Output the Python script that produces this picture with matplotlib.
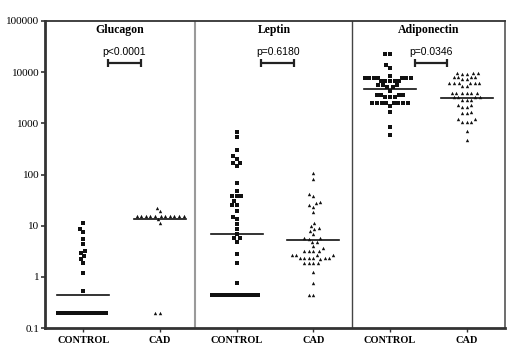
import numpy as np
import matplotlib
matplotlib.use("Agg")
import matplotlib.pyplot as plt

# ---------------- data ----------------
categories = ["CONTROL", "CAD", "CONTROL", "CAD", "CONTROL", "CAD"]
panel_titles = ["Glucagon", "Leptin", "Adiponectin"]
p_texts = ["p<0.0001", "p=0.6180", "p=0.0346"]

glucagon_control = [11.1, 8.6, 7.6, 5.4, 4.3, 3.2, 2.96, 2.55, 2.2, 1.84, 1.17, 0.53] + [0.2] * 20
glucagon_cad = [22.4, 19.5] + [15.7] * 11 + [13.3, 11.1, 0.2, 0.2]

leptin_control = [686, 533, 301, 230, 198, 170, 170, 147, 67, 48, 38.5, 38.5, 38.5, 30,
                  25, 25, 19.3, 14.6, 13.3, 10.8, 8.5, 6.8, 5.7, 5.7, 4.9, 2.75, 1.84,
                  0.77] + [0.44] * 14
leptin_cad = [105, 80, 41, 38, 29.4, 28, 25, 23.5, 18.7, 11.1, 9.8, 8.9, 8.5, 7.9, 6.9,
              5.7, 5.7, 5.5, 4.9, 4.9, 4.0, 3.6, 3.2, 3.2, 3.2, 3.2, 2.67, 2.67, 2.67,
              2.67, 2.3, 2.3, 2.3, 2.3, 2.3, 2.3, 2.2, 1.84, 1.84, 1.84, 1.84, 1.26,
              0.75, 0.44, 0.44]

adipo_control = [22400, 22400, 13500, 12000, 8300] + [7600] * 7 + [6700] * 5 + \
                [5550] * 3 + [5050] * 2 + [4300] + [3570] * 4 + [3200] * 3 + \
                [2480] * 8 + [2200, 1670, 860, 590]
adipo_cad = [9800, 9600, 9500, 9400, 9300] + [8000] * 4 + [7200] * 2 + [6050] * 6 + \
            [5300] * 2 + [3860] * 6 + [3200] * 4 + [2860] * 3 + [2280] * 2 + \
            [2060] * 2 + [1690] + [1570] * 2 + [1200] * 2 + [1080] * 3 + [720, 475]

groups = [glucagon_control, glucagon_cad, leptin_control, leptin_cad,
          adipo_control, adipo_cad]
center_lines = [0.44, 13.3, 7.0, 5.2, 4600, 3170]

# ---------------- figure ----------------
W, H, DPI = 524, 355, 100
fig = plt.figure(figsize=(W / DPI, H / DPI), dpi=DPI)
ax = fig.add_axes([45 / W, 1 - 328 / H, 460 / W, 307 / H])
ax.set_yscale("log")
ax.set_ylim(0.1, 100000)
ax.set_xlim(-0.5, 5.5)

px_per_decade = 307 / 6.0
px_per_cat = 460 / 6.0


def swarm(values, d=4.6, maxw=25.0):
    vals = np.asarray(values, dtype=float)
    order = np.argsort(vals)
    ys = np.log10(vals) * px_per_decade
    xs = np.zeros(len(vals))
    placed = []
    for i in order:
        y = ys[i]
        cands = [0.0]
        for j in placed:
            dy = y - ys[j]
            if abs(dy) < d:
                dx = np.sqrt(d * d - dy * dy)
                cands += [xs[j] + dx, xs[j] - dx]
        cands = sorted(set(cands), key=lambda c: (abs(c), c))
        for c in cands:
            ok = True
            for j in placed:
                if (c - xs[j]) ** 2 + (y - ys[j]) ** 2 < d * d - 1e-6:
                    ok = False
                    break
            if ok:
                xs[i] = c
                break
        placed.append(i)
    # compress overly wide rows of identical values
    for v in np.unique(vals):
        m = vals == v
        w = np.max(np.abs(xs[m]))
        if w > maxw:
            xs[m] *= maxw / w
    return xs / px_per_cat


for k, vals in enumerate(groups):
    off = swarm(vals)
    marker = "s" if k % 2 == 0 else "^"
    size = 5 if marker == "s" else 6
    ax.scatter(k + off, vals, marker=marker, s=size, c="#111111", linewidths=0, zorder=3)
    ax.plot([k - 0.34, k + 0.34], [center_lines[k], center_lines[k]], color="#111111",
            lw=1.2, zorder=4)

# panel dividers
ax.axvline(1.46, color="#9a9a9a", lw=1.5, zorder=1)
ax.axvline(3.5, color="#444444", lw=1.0, zorder=1)

# titles and p-value brackets
title_x = [0.48, 2.49, 4.5]
for i in range(3):
    ax.text(title_x[i], 0.971, panel_titles[i], transform=ax.get_xaxis_transform(),
            ha="center", va="center", fontsize=8.5, fontweight="bold",
            family="Liberation Serif")
    x0, x1 = 2 * i + 0.32, 2 * i + 0.75
    yb = 14900
    ax.plot([x0, x1], [yb, yb], color="#222222", lw=1.6, solid_capstyle="butt", zorder=5)
    for xx in (x0, x1):
        ax.plot([xx, xx], [yb / 1.2, yb * 1.2], color="#222222", lw=1.6,
                solid_capstyle="butt", zorder=5)
    ax.text((x0 + x1) / 2, 25000, p_texts[i], ha="center", va="center", fontsize=7.5,
            family="Liberation Sans")

# axes styling
ax.set_yticks([0.1, 1, 10, 100, 1000, 10000, 100000])
ax.set_yticklabels(["0.1", "1", "10", "100", "1000", "10000", "100000"],
                   family="Liberation Serif", fontsize=8)
ax.yaxis.set_minor_locator(matplotlib.ticker.NullLocator())
ax.set_xticks(range(6))
ax.set_xticklabels(categories, family="Liberation Serif", fontsize=7.5,
                   fontweight="bold")
ax.tick_params(axis="y", length=3, width=1.2, pad=1, color="#333333")
ax.tick_params(axis="x", length=3, width=1.0, pad=3, color="#333333")

ax.spines["left"].set_linewidth(2.0)
ax.spines["left"].set_color("#333333")
ax.spines["bottom"].set_linewidth(2.0)
ax.spines["bottom"].set_color("#333333")
ax.spines["top"].set_linewidth(1.3)
ax.spines["top"].set_color("#333333")
ax.spines["right"].set_linewidth(1.2)
ax.spines["right"].set_color("#555555")

fig.savefig("out.png", dpi=DPI)
